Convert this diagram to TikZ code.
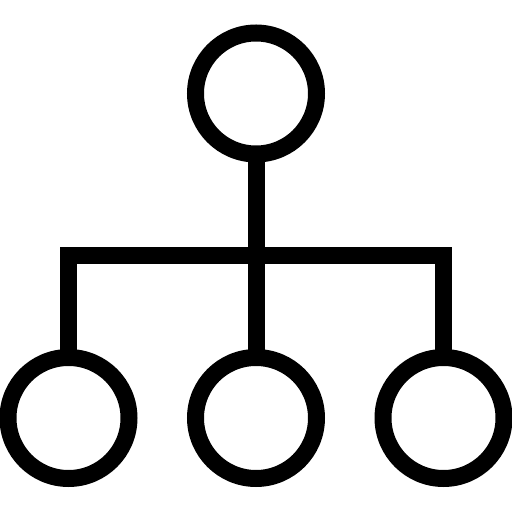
\documentclass[tikz,border=0pt]{standalone}
\begin{document}
\begin{tikzpicture}[x=1pt,y=1pt,
  ring/.style={circle,draw=black,line width=17pt,minimum size=121pt,inner sep=0pt,fill=white},
  link/.style={line width=17pt,line join=miter,line cap=butt}]
\useasboundingbox (0,0) rectangle (512,512);
\coordinate (ct) at (256,418.5);
\coordinate (cl) at (68.5,94);
\coordinate (cm) at (256,94);
\coordinate (cr) at (443.5,94);
\coordinate (bar) at (256,256.5);
\draw[link] (ct) -- (cm);
\draw[link] (cl) -- (cl |- bar) -- (cr |- bar) -- (cr);
\node[ring] (top) at (ct) {};
\node[ring] (l) at (cl) {};
\node[ring] (m) at (cm) {};
\node[ring] (r) at (cr) {};
\end{tikzpicture}
\end{document}
